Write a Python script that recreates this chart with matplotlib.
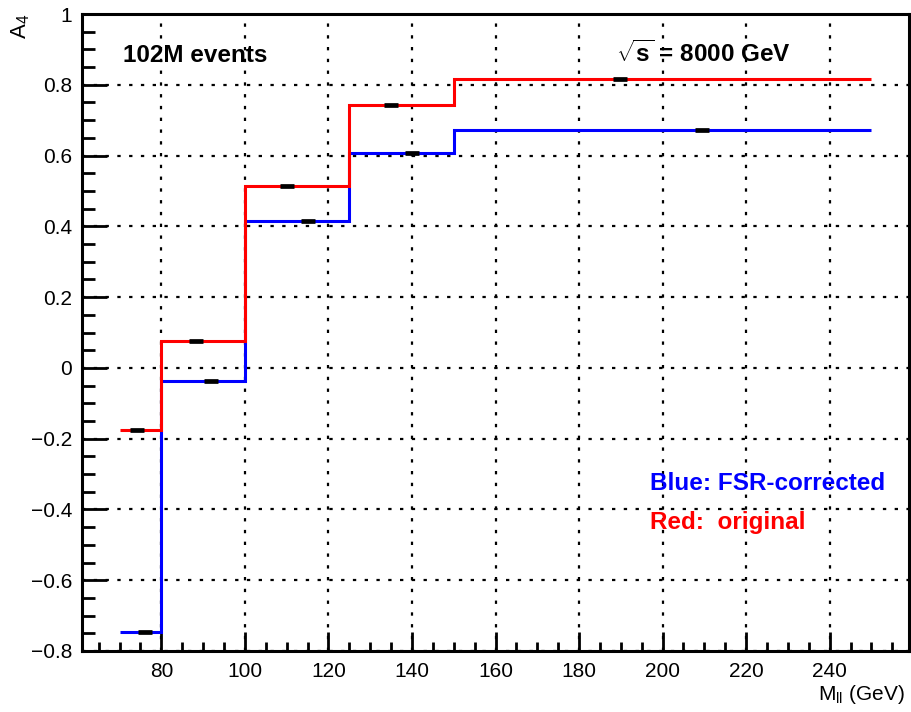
import numpy as np
import matplotlib
matplotlib.use("Agg")
import matplotlib.pyplot as plt
from matplotlib.ticker import MultipleLocator, FuncFormatter

plt.rcParams['font.family'] = ['Liberation Sans', 'DejaVu Sans']
plt.rcParams['mathtext.fontset'] = 'custom'
plt.rcParams['mathtext.rm'] = 'Liberation Sans'
plt.rcParams['mathtext.it'] = 'Liberation Sans'
plt.rcParams['mathtext.bf'] = 'Liberation Sans:bold'

# bin edges in M_ll (GeV)
edges = [70, 80, 100, 125, 150, 250]

# A4 per bin
a4_red = [-0.176, 0.0755, 0.514, 0.742, 0.816]    # original
a4_blue = [-0.747, -0.037, 0.416, 0.606, 0.672]   # FSR-corrected

# points (mean mass in bin) with their tiny error bars
x_red = [74.2, 88.2, 110.1, 134.9, 189.8]
x_blue = [76.2, 92.0, 115.1, 139.9, 209.5]

fig = plt.figure(figsize=(9.11, 7.12), dpi=100)
ax = fig.add_axes([82/911, 1-651/712, (909-82)/911, (651-14)/712])

ax.stairs(a4_blue, edges, baseline=None, color='#0000ff', lw=2.2, zorder=3)
ax.stairs(a4_red, edges, baseline=None, color='#ff0000', lw=2.2, zorder=4)
ax.plot(x_red, a4_red, ls='none', marker='_', ms=9.5, mew=3.4, color='black', zorder=5)
ax.plot(x_blue, a4_blue, ls='none', marker='_', ms=9.5, mew=3.4, color='black', zorder=5)

ax.set_xlim(61, 259)
ax.set_ylim(-0.8, 1.0)
ax.xaxis.set_major_locator(MultipleLocator(20))
ax.xaxis.set_minor_locator(MultipleLocator(5))
ax.yaxis.set_major_locator(MultipleLocator(0.2))
ax.yaxis.set_minor_locator(MultipleLocator(0.05))
fmt = FuncFormatter(lambda v, p: f'{v:g}'.replace('-', '\u2212') if abs(v) > 1e-9 else '0')
ax.yaxis.set_major_formatter(fmt)
ax.xaxis.set_major_formatter(FuncFormatter(lambda v, p: f'{v:g}' if 70 < v < 250 else ''))

ax.tick_params(axis='both', which='both', direction='in', width=2, labelsize=15, top=False, right=False)
ax.tick_params(axis='y', which='major', length=18, pad=7)
ax.tick_params(axis='y', which='minor', length=9.5)
ax.tick_params(axis='x', which='major', length=13.5, pad=8)
ax.tick_params(axis='x', which='minor', length=6.5)
for s in ax.spines.values():
    s.set_linewidth(2.2)

ax.grid(True, which='major', color='black', lw=1.6, ls=(0, (1.5, 3.8)))
ax.set_axisbelow(True)

fig.text(21/911, 1-26/712, r'A$_{\mathrm{4}}$', rotation=90, ha='center', va='center', fontsize=16)
fig.text(905/911, 1-700/712, r'M$_{\mathrm{ll}}$ (GeV)', ha='right', va='baseline', fontsize=15)

fig.text(123/911, 1-62/712, '102M events', fontsize=17.5, fontweight='bold', va='baseline')
fig.text(616/911, 1-62/712, r'$\mathbf{\sqrt{s}}$ = 8000 GeV', fontsize=17.5, fontweight='bold', va='baseline')
fig.text(650/911, 1-490/712, 'Blue: FSR-corrected', fontsize=17.5, fontweight='bold', color='#0000ff', va='baseline')
fig.text(650/911, 1-529/712, 'Red:  original', fontsize=17.5, fontweight='bold', color='#ff0000', va='baseline')

fig.savefig('out.png', dpi=100)
